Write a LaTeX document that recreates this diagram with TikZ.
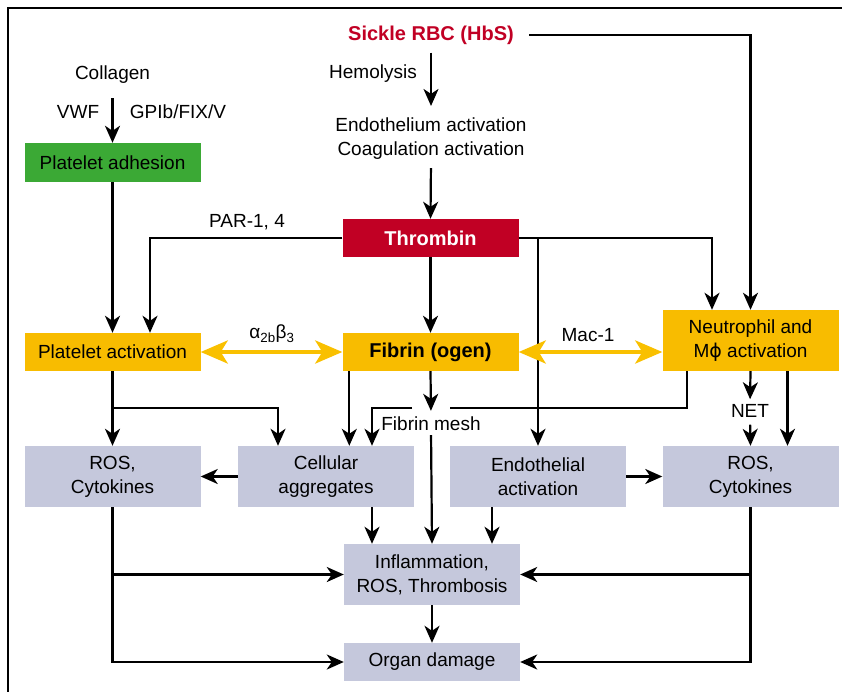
\documentclass[tikz,border=0pt]{standalone}
\usepackage{fontspec}
\setmainfont{Liberation Sans}
\newfontfamily\dejavu{DejaVu Sans}
\usetikzlibrary{arrows.meta}
\definecolor{redc}{HTML}{C10024}
\definecolor{greenc}{HTML}{3BA935}
\definecolor{amber}{HTML}{F8BC00}
\definecolor{yel}{HTML}{F9C000}
\definecolor{lav}{HTML}{C5C8DC}
\begin{document}
\begin{tikzpicture}[x=1pt,y=-1pt,
  font=\fontsize{19}{24}\selectfont,
  tx/.style={inner sep=0pt, align=center},
  box/.style={rectangle, inner sep=0pt, align=center, minimum width=176pt, minimum height=38pt},
  bold/.style={font=\fontsize{20}{24}\selectfont\bfseries},
  conn/.style={line width=2.2pt, -{Stealth[length=17pt,width=15pt,inset=5pt]}},
  plain/.style={line width=2.2pt},
  yarr/.style={line width=4pt, draw=yel, {Stealth[length=27pt,width=23pt,inset=7pt]}-{Stealth[length=27pt,width=23pt,inset=7pt]}}]
\useasboundingbox (0,0) rectangle (842,692);
\draw[line width=2.2pt] (8,692) -- (8,8) -- (842,8);

% texts
\node[tx, bold, text=redc] (rbc) at (431,35) {Sickle RBC (HbS)};
\node[tx] (hemo) at (373,74) {Hemolysis};
\node[tx] (endoc) at (431,139) {Endothelium activation\\Coagulation activation};
\node[tx] (coll) at (112.5,75) {Collagen};
\node[tx] (vwf) at (78,112) {VWF};
\node[tx] (gp) at (178,112) {GPIb/FIX/V};
\node[tx] (par) at (247,222) {PAR-1, 4};
\node[tx] (ab) at (272,334) {α\textsubscript{2b}β\textsubscript{3}};
\node[tx] (mac) at (588,335) {Mac-1};
\node[tx] (fm) at (431,424) {Fibrin mesh};
\node[tx] (net) at (750,411) {NET};

% boxes
\node[box, fill=greenc, minimum height=39pt] (adh) at (112.5,162.5) {Platelet adhesion};
\node[box, fill=redc, text=white, bold] (thr) at (430.5,238) {Thrombin};
\node[box, fill=amber] (pa) at (112.5,352) {Platelet activation};
\node[box, fill=amber, bold] (fib) at (430.5,352) {Fibrin (ogen)};
\node[box, fill=amber, minimum height=61pt] (neu) at (750.5,340.5) {Neutrophil and\\M{\dejavu ϕ} activation};
\node[box, fill=lav, minimum height=61pt] (ros1) at (112.5,476.5) {ROS,\\Cytokines};
\node[box, fill=lav, minimum height=61pt] (cell) at (326,476.5) {Cellular\\aggregates};
\node[box, fill=lav, minimum height=61pt] (endo) at (538,476.5) {Endothelial\\activation};
\node[box, fill=lav, minimum height=61pt] (ros2) at (750.5,476.5) {ROS,\\Cytokines};
\node[box, fill=lav, minimum height=61pt] (infl) at (432,574.5) {Inflammation,\\ROS, Thrombosis};
\node[box, fill=lav] (organ) at (432,662) {Organ damage};

\coordinate (gapR) at (450,408);
\coordinate (gapL) at (412,408);
\coordinate (pj) at (112.5,408);

% connectors
\draw[conn, shorten <=15pt] (rbc.east) -| (neu.north);
\draw[conn, shorten <=8pt, shorten >=12pt] (rbc.south) -- (endoc.north);
\draw[conn, shorten <=8pt] (endoc.south) -- (thr.north);
\draw[conn, shorten <=14pt] (coll.south) -- (adh.north);
\draw[conn] (adh.south) -- (pa.north);
\draw[conn] (thr.west) -| ([xshift=37.5pt]pa.north);
\draw[conn] (thr.south) -- (fib.north);
\draw[conn] (thr.east) -| ([xshift=-38.5pt]neu.north);
\draw[conn] (thr.east -| endo.north) -- (endo.north);
\draw[yarr] (pa.east) -- (fib.west);
\draw[yarr] (fib.east) -- (fib.east -| neu.west);

\draw[conn] (pa.south) -- (ros1.north);
\draw[conn] (pj) -| ([xshift=-48pt]cell.north);
\draw[conn] ([xshift=7pt]fib.south west) -- ([xshift=7pt]fib.south west |- cell.north);
\draw[conn, shorten >=6pt] (fib.south) -- (fm.north);
\draw[conn, shorten <=4pt] (fm.south) -- (infl.north);
\draw[plain] ([xshift=-63.5pt]neu.south) |- (gapR);
\draw[conn] (gapL) -| ([xshift=46pt]cell.north);
\draw[conn, shorten >=5pt] (neu.south) -- (net.north);
\draw[conn, shorten <=7pt] (net.south) -- (ros2.north);
\draw[conn] ([xshift=37pt]neu.south) -- ([xshift=37pt]ros2.north);

\draw[conn] (cell.west) -- (ros1.east);
\draw[conn] (endo.east) -- (ros2.west);
\draw[conn] ([xshift=46pt]cell.south) -- ([xshift=46pt]cell.south |- infl.north);
\draw[conn] ([xshift=-46pt]endo.south) -- ([xshift=-46pt]endo.south |- infl.north);
\draw[conn] (infl.south) -- (organ.north);
\draw[conn] (ros1.south) |- (infl.west);
\draw[conn] (ros1.south) |- (organ.west);
\draw[conn] (ros2.south) |- (infl.east);
\draw[conn] (ros2.south) |- (organ.east);
\end{tikzpicture}
\end{document}
